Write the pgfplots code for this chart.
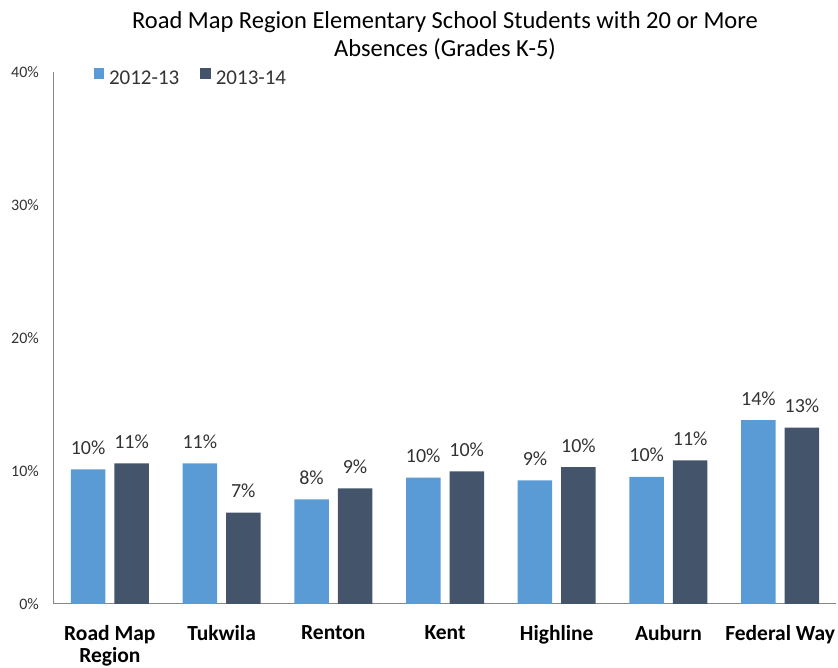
\documentclass[border=0pt]{standalone}
\usepackage{pgfplots}
\pgfplotsset{compat=1.18}
\usepackage{pgfplotstable}
\usepackage{fontspec}
\setmainfont{Carlito}
\definecolor{c1}{HTML}{5B9BD5}
\definecolor{c2}{HTML}{44546A}
\definecolor{axgray}{HTML}{868686}
\definecolor{txt}{HTML}{333333}
\pgfplotstableread{
x y lab
0 10.13 10
1 10.58 11
2 7.87 8
3 9.50 10
4 9.30 9
5 9.55 10
6 13.83 14
}\tablea
\pgfplotstableread{
x y lab
0 10.58 11
1 6.87 7
2 8.70 9
3 9.98 10
4 10.30 10
5 10.80 11
6 13.26 13
}\tableb
\begin{document}
\begin{tikzpicture}
\useasboundingbox (-54pt,-64pt) rectangle (784pt,604pt);
\begin{axis}[
  at={(0pt,0pt)}, anchor=south west,
  scale only axis, width=782pt, height=532pt,
  ybar=9pt, bar width=34.5pt,
  xmin=-0.5, xmax=6.5, ymin=0, ymax=40,
  axis lines=left, axis line style={-, draw=axgray, line width=1pt},
  major tick length=0pt,
  xtick={0,1,2,3,4,5,6},
  xticklabels={{Road Map\\Region},Tukwila,Renton,Kent,Highline,Auburn,{Federal Way}},
  xticklabel style={align=center, inner sep=0pt, anchor=north, yshift=-21pt,
    font=\bfseries\fontsize{21.5}{22.6}\selectfont, text=black},
  ytick={0,10,20,30,40},
  yticklabels={0\%,10\%,20\%,30\%,40\%},
  yticklabel style={inner sep=0pt, anchor=east, xshift=-15pt,
    font=\fontsize{16}{18}\selectfont, text=txt},
  title={Road Map Region Elementary School Students with 20 or More\\Absences (Grades K-5)},
  title style={at={(0.5,1)}, anchor=south, inner sep=0pt, yshift=6pt, align=center,
    font=\fontsize{24.5}{28}\selectfont, text=black},
  point meta=explicit symbolic,
  nodes near coords={\pgfplotspointmeta\%},
  every node near coord/.append style={anchor=base, yshift=15pt, inner sep=0pt,
    font=\fontsize{20}{22}\selectfont, text=txt},
  legend columns=2,
  legend style={at={(axis description cs:0.0503,0.991)}, anchor=west, draw=none, fill=none,
    inner sep=0pt, nodes={inner sep=0pt}, font=\fontsize{21}{24}\selectfont, text=txt},
  /tikz/every odd column/.append style={column sep=5pt},
  /tikz/every even column/.append style={column sep=21pt},
  legend image code/.code={\fill[#1] (0pt,0pt) rectangle (10.5pt,11pt);},
  clip=false,
]
\addplot[fill=c1, draw=none] table[x=x, y=y, meta=lab] {\tablea};
\addplot[fill=c2, draw=none] table[x=x, y=y, meta=lab] {\tableb};
\legend{2012-13, 2013-14}
\end{axis}
\end{tikzpicture}
\end{document}
